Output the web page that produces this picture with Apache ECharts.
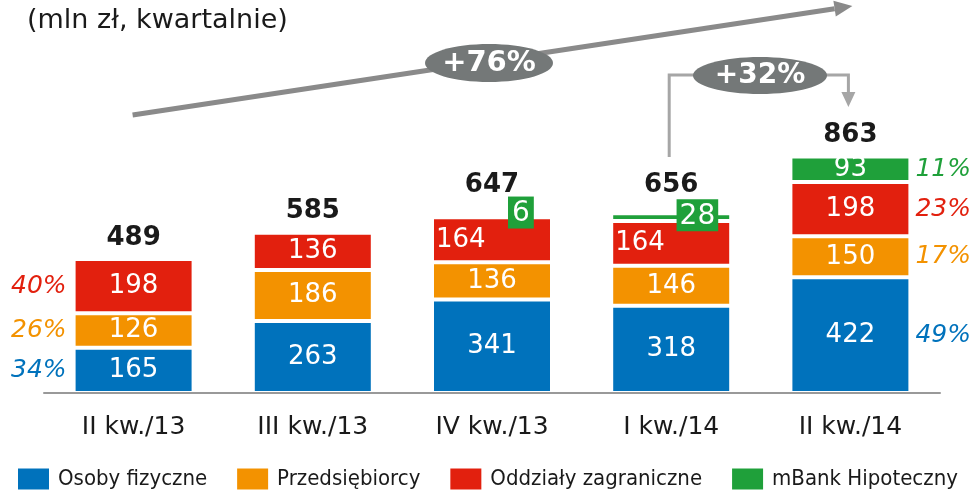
<!DOCTYPE html>
<html lang="pl">
<head>
    <meta charset="UTF-8">
    <title>Przychody - struktura kwartalna</title>
    <script src="https://cdn.jsdelivr.net/npm/echarts@6/dist/echarts.min.js"></script>
    <style>
        html, body { margin: 0; padding: 0; background: #fff; }
        #main { width: 972px; height: 496px; }
    </style>
</head>
<body>
<div id="main"></div>
<script>
    // dane (mln zł, kwartalnie)
    const categories = ['II kw./13', 'III kw./13', 'IV kw./13', 'I kw./14', 'II kw./14'];
    const osobyFizyczne = [165, 263, 341, 318, 422];
    const przedsiebiorcy = [126, 186, 136, 146, 150];
    const oddzialy = [198, 136, 164, 164, 198];
    const mBankHip = [null, null, 6, 28, 93];
    const seriesNames = ['Osoby fizyczne', 'Przedsiębiorcy', 'Oddziały zagraniczne', 'mBank Hipoteczny'];
    const colors = ['#0072bc', '#f39200', '#e2200e', '#1fa03a'];

    const allValues = [osobyFizyczne, przedsiebiorcy, oddzialy, mBankHip];
    const totals = categories.map((c, i) => allValues.reduce((s, arr) => s + (arr[i] || 0), 0));

    const FONT = 'DejaVu Sans';
    const BAR_W = 120;

    let myChart = echarts.init(document.getElementById('main'));

    // segmenty slupkow
    let barSeries = allValues.map((vals, si) => ({
        name: seriesNames[si],
        type: 'bar',
        stack: 'total',
        barWidth: BAR_W,
        itemStyle: { color: colors[si], borderColor: '#fff', borderWidth: 2 },
        label: {
            show: true,
            position: 'inside',
            color: '#fff',
            fontFamily: FONT,
            fontSize: 26
        },
        data: vals.map((v, i) => {
            let item = { value: v };
            // czerwone segmenty przesuniete w lewo (miejsce na zielone etykiety)
            if (si === 2 && (i === 2 || i === 3)) {
                item.label = { position: 'insideLeft', distance: 4 };
            }
            // male segmenty mBank Hipoteczny - etykieta w zielonym boksie
            if (si === 3 && i === 2) {
                item.label = { position: [102, 13], align: 'right', verticalAlign: 'bottom', fontSize: 28,
                    backgroundColor: colors[3], padding: [3, 4, 1, 4] };
            }
            if (si === 3 && i === 3) {
                item.label = { position: [107, 18], align: 'right', verticalAlign: 'bottom', fontSize: 28,
                    backgroundColor: colors[3], padding: [3, 3, 1, 3] };
            }
            return item;
        })
    }));

    // udzialy procentowe (przezroczysta nakladka na drugiej osi)
    let pctSeries = allValues.map((vals, si) => ({
        name: 'pct' + si,
        type: 'bar',
        stack: 'pct',
        xAxisIndex: 1,
        barWidth: BAR_W,
        silent: true,
        itemStyle: { color: 'rgba(0,0,0,0)' },
        label: { show: false },
        data: vals.map((v, i) => {
            let item = { value: v };
            if (v != null && (i === 0 || i === categories.length - 1)) {
                item.label = {
                    show: true,
                    position: i === 0 ? 'left' : 'right',
                    distance: i === 0 ? 7 : 5,
                    color: colors[si],
                    fontFamily: FONT,
                    fontStyle: 'italic',
                    fontSize: 25,
                    formatter: () => Math.round(v / totals[i] * 100) + '%'
                };
            }
            return item;
        })
    }));

    // sumy nad slupkami
    let totalSeries = {
        name: 'suma',
        type: 'scatter',
        symbolSize: 0,
        silent: true,
        z: 5,
        itemStyle: { opacity: 1 },
        label: {
            show: true,
            position: 'top',
            distance: 8,
            color: '#1a1a1a',
            opacity: 1,
            fontFamily: FONT,
            fontWeight: 'bold',
            fontSize: 26
        },
        data: totals.map((t, i) => {
            let item = { value: t };
            if (i === 2) item.label = { distance: 17 };
            if (i === 3) item.label = { distance: 15 };
            return item;
        })
    };

    let option = {
        animation: false,
        title: {
            text: '(mln zł, kwartalnie)',
            left: 27,
            top: 7,
            padding: 0,
            textStyle: { fontFamily: FONT, fontWeight: 'normal', fontSize: 27, color: '#1a1a1a' }
        },
        legend: {
            data: seriesNames,
            left: 18,
            top: 468,
            padding: 0,
            itemWidth: 31,
            itemHeight: 21,
            itemGap: 30,
            icon: 'rect',
            itemStyle: { borderWidth: 0 },
            textStyle: { fontFamily: 'DejaVu Sans Condensed, ' + FONT, fontSize: 22, color: '#1a1a1a', padding: [0, 0, 0, 4] }
        },
        grid: { left: 44, right: 32, top: 119, bottom: 103 },
        xAxis: [
            {
                type: 'category',
                data: categories,
                z: 10,
                axisLine: { lineStyle: { color: '#999', width: 2 } },
                axisTick: { show: false },
                axisLabel: { margin: 22, fontFamily: FONT, fontSize: 25, color: '#1a1a1a' }
            },
            { type: 'category', data: categories, show: false }
        ],
        yAxis: { type: 'value', min: 0, max: 1000, show: false, splitLine: { show: false } },
        series: barSeries.concat(pctSeries, [totalSeries])
    };
    myChart.setOption(option);

    // adnotacje: strzalki dynamiki
    const cx = i => myChart.convertToPixel({ xAxisIndex: 0 }, categories[i]);
    const x0 = cx(0) - 1, x3 = cx(3) - 2, x4 = cx(4) - 2;

    // duza strzalka +76%
    const start = [x0, 115], tip = [x4 + 4, 6];
    const dx = tip[0] - start[0], dy = tip[1] - start[1];
    const len = Math.sqrt(dx * dx + dy * dy);
    const ux = dx / len, uy = dy / len, nx = -uy, ny = ux;
    const base = [tip[0] - 18 * ux, tip[1] - 18 * uy];

    myChart.setOption({
        graphic: [
            { type: 'line', shape: { x1: start[0], y1: start[1], x2: base[0], y2: base[1] },
              style: { stroke: '#8a8a8a', lineWidth: 5 } },
            { type: 'polygon', shape: { points: [tip, [base[0] + 8 * nx, base[1] + 8 * ny], [base[0] - 8 * nx, base[1] - 8 * ny]] },
              style: { fill: '#8a8a8a' } },
            { type: 'ellipse', shape: { cx: 489, cy: 63, rx: 64, ry: 19 }, style: { fill: '#747878' } },
            { type: 'text', x: 489, y: 63,
              style: { text: '+76%', fill: '#fff', font: 'bold 29px "DejaVu Sans"', align: 'center', verticalAlign: 'middle' } },

            { type: 'polyline', shape: { points: [[x3, 157], [x3, 75], [695, 75]] },
              style: { stroke: '#a6a6a6', lineWidth: 3, fill: null } },
            { type: 'polyline', shape: { points: [[825, 75], [x4, 75], [x4, 94]] },
              style: { stroke: '#a6a6a6', lineWidth: 3, fill: null } },
            { type: 'polygon', shape: { points: [[x4 - 7, 92], [x4 + 7, 92], [x4, 107]] },
              style: { fill: '#a6a6a6' } },
            { type: 'ellipse', shape: { cx: 760, cy: 75.5, rx: 67, ry: 18.5 }, style: { fill: '#747878' } },
            { type: 'text', x: 760, y: 75.5,
              style: { text: '+32%', fill: '#fff', font: 'bold 28px "DejaVu Sans"', align: 'center', verticalAlign: 'middle' } }
        ]
    });
</script>
</body>
</html>
